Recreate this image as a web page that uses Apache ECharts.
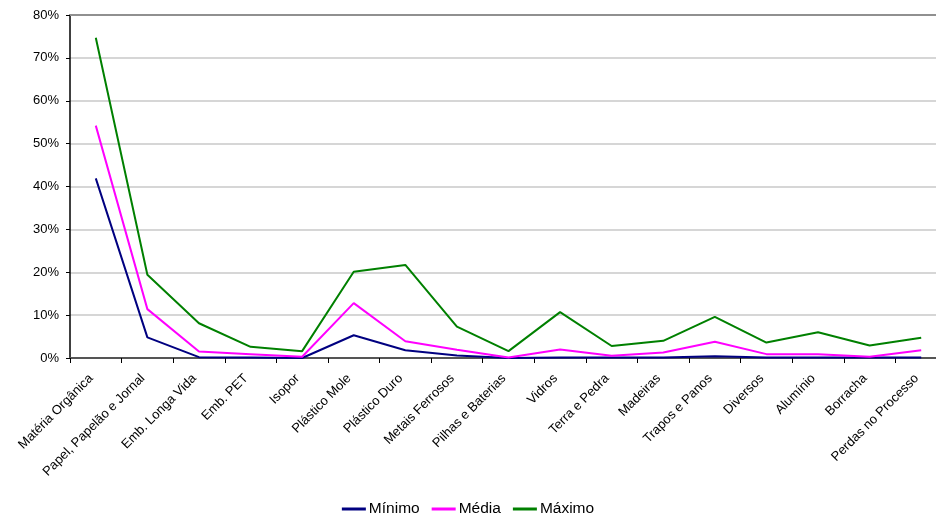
<!DOCTYPE html>
<html><head><meta charset="utf-8">
<script src="https://cdn.jsdelivr.net/npm/echarts@6/dist/echarts.min.js"></script>
<style>html,body{margin:0;padding:0;background:#fff}#c{width:936px;height:519px}</style>
</head><body><div id="c"></div>
<script>
const categories = ["Matéria Orgânica","Papel, Papelão e Jornal","Emb. Longa Vida","Emb. PET","Isopor","Plástico Mole","Plástico Duro","Metais Ferrosos","Pilhas e Baterias","Vidros","Terra e Pedra","Madeiras","Trapos e Panos","Diversos","Alumínio","Borracha","Perdas no Processo"];
const minimo = [41.9,4.8,0.2,0.1,0.0,5.3,1.8,0.6,0.0,0.1,0.1,0.1,0.4,0.1,0.1,0.1,0.1];
const media  = [54.2,11.4,1.5,0.9,0.3,12.8,3.9,1.9,0.1,2.0,0.5,1.3,3.8,0.9,0.9,0.3,1.8];
const maximo = [74.7,19.4,8.1,2.6,1.6,20.1,21.7,7.3,1.6,10.7,2.8,4.0,9.6,3.6,6.0,2.9,4.7];
const yTicks = [0,10,20,30,40,50,60,70,80];

const font = "'Liberation Sans', Arial, sans-serif";
const chart = echarts.init(document.getElementById('c'));
chart.setOption({
  animation: false,
  textStyle: {fontFamily: font},
  grid: {left: 70, top: 15, right: -11, bottom: 161, outerBoundsMode: 'none', containLabel: false},
  legend: {
    bottom: -3, left: 'center', itemGap: 12, itemWidth: 24, itemHeight: 3, icon: 'rect',
    textStyle: {fontFamily: font, fontSize: 15.5, color: '#000', padding: [0,0,0,-2]},
    data: ['Mínimo','Média','Máximo']
  },
  xAxis: [{
    type: 'category', data: categories, boundaryGap: true,
    axisLine: {lineStyle: {color: '#555', width: 2}},
    axisTick: {show: true, alignWithLabel: false, length: 5, lineStyle: {color: '#000'}},
    axisLabel: {rotate: 45, interval: 0, fontSize: 13, color: '#000', fontFamily: font,
      margin: 23, verticalAlign: 'bottom'}
  },{
    type: 'category', data: categories, position: 'top', boundaryGap: true,
    axisLine: {show: true, lineStyle: {color: '#909090', width: 2}},
    axisTick: {show: false}, axisLabel: {show: false}
  }],
  yAxis: {
    type: 'value', min: 0, max: 80, interval: 10,
    axisLine: {show: true, lineStyle: {color: '#000', width: 1.5}},
    axisTick: {show: true, length: 4, lineStyle: {color: '#000'}},
    axisLabel: {fontSize: 13, color: '#000', fontFamily: font, margin: 11,
      formatter: v => yTicks.includes(v) ? v + '%' : ''},
    splitLine: {show: true, lineStyle: {color: '#c8c8c8', width: 1.5}}
  },
  series: [
    {name: 'Mínimo', type: 'line', data: minimo, showSymbol: false, symbol: 'none',
      lineStyle: {color: '#000080', width: 2}, itemStyle: {color: '#000080'}},
    {name: 'Média', type: 'line', data: media, showSymbol: false, symbol: 'none',
      lineStyle: {color: '#ff00ff', width: 2}, itemStyle: {color: '#ff00ff'}},
    {name: 'Máximo', type: 'line', data: maximo, showSymbol: false, symbol: 'none',
      lineStyle: {color: '#008000', width: 2}, itemStyle: {color: '#008000'}}
  ]
});
</script></body></html>
